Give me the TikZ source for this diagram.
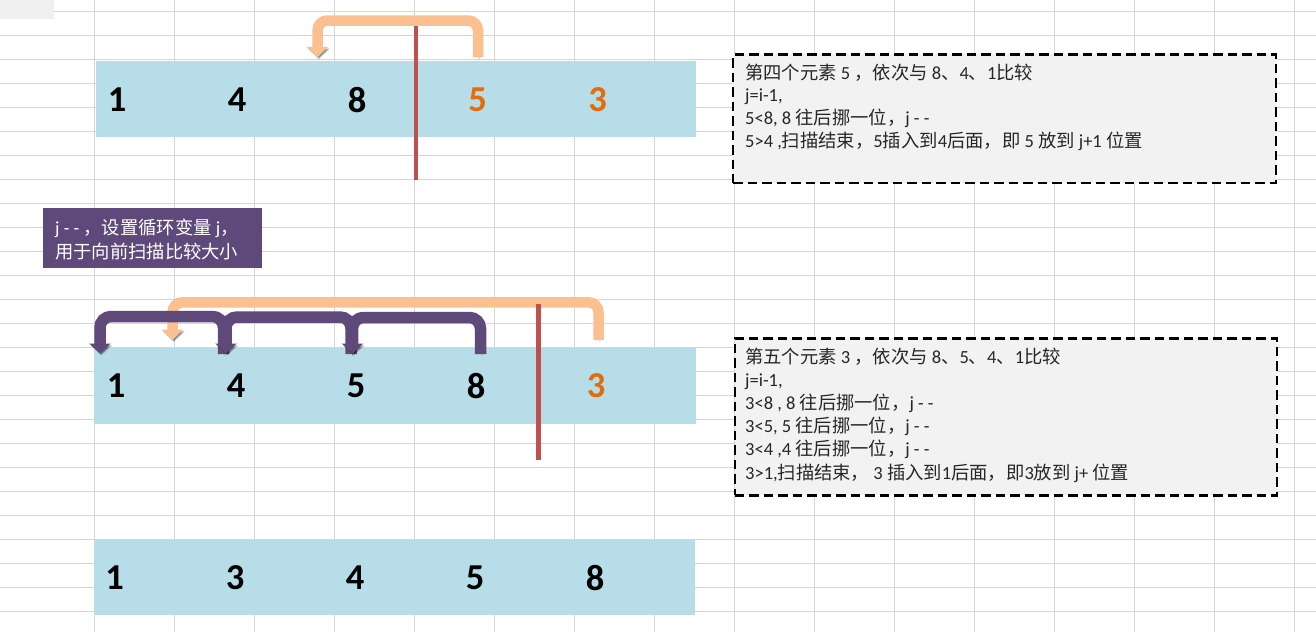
\documentclass[tikz,border=0pt]{standalone}
\usepackage{fontspec}
\setmainfont{Carlito}
\newfontfamily\cjk{Noto Sans CJK SC}
\usetikzlibrary{arrows.meta}
\definecolor{cellblue}{HTML}{B7DDE8}
\definecolor{numorange}{HTML}{E46C0A}
\definecolor{redline}{HTML}{C0504D}
\definecolor{arrorange}{HTML}{FAC090}
\definecolor{arrpurple}{HTML}{5F497A}
\definecolor{gridgray}{HTML}{D6D6D6}
\definecolor{notefill}{HTML}{F2F2F2}
\newcommand\C[1]{{\cjk\fontsize{18.3}{22}\selectfont #1}}
\begin{document}
\begin{tikzpicture}[x=1pt,y=-1pt,
  gridline/.style={draw=gridgray, line width=1pt},
  cellrow/.style={fill=cellblue, draw=none, inner sep=0pt, anchor=north west},
  num/.style={font=\fontsize{36.5}{40}\selectfont\bfseries, inner sep=0pt, anchor=center, text=black},
  hilite/.style={text=numorange},
  notebox/.style={draw=black, line width=2.3pt, dash pattern=on 9.5pt off 5pt, fill=notefill, inner sep=0pt, anchor=north west},
  noteline/.style={anchor=base west, inner sep=0pt, font=\fontsize{18.5}{22}\selectfont, text=black!85},
  labelbox/.style={fill=arrpurple, draw=none, inner sep=0pt, anchor=north west},
  labelline/.style={anchor=base west, inner sep=0pt, font=\fontsize{18.5}{22}\selectfont, text=white},
  shadowed/.style={preaction={draw=black, opacity=0.3, transform canvas={shift={(1.3pt,-1.8pt)}}}},
  orangearrow/.style={shadowed, draw=arrorange, line width=10.5pt, line cap=butt, rounded corners=10pt, -{Triangle[width=21pt,length=10.5pt]}},
  purplearrow/.style={shadowed, draw=arrpurple, line width=11.5pt, line cap=butt, rounded corners=11pt, -{Triangle[width=21pt,length=10pt]}},
  marker/.style={draw=redline, line width=4.5pt, line cap=butt}
]
\useasboundingbox (0,0) rectangle (1316,632);
\fill[white] (0,0) rectangle (1316,632);
% spreadsheet grid
\foreach \k in {0,...,25} \draw[gridline] (0,{11+24*\k}) -- (1316,{11+24*\k});
\foreach \k in {0,...,15} \draw[gridline] ({94+80*\k},0) -- ({94+80*\k},632);
\fill[gray!12] (0,0) rectangle (54,19);

% rows of cells
\node[cellrow, minimum width=600pt, minimum height=76pt] (row1) at (96,61) {};
\node[cellrow, minimum width=602pt, minimum height=76.5pt] (row2) at (94,347.3) {};
\node[cellrow, minimum width=601pt, minimum height=75.5pt] (row3) at (94,539.3) {};

% numbers
\node[num] (a1) at (117,100) {1};
\node[num] (a2) at (237,100) {4};
\node[num] (a3) at (357,100) {8};
\node[num,hilite] (a4) at (477.5,100) {5};
\node[num,hilite] (a5) at (597.5,100) {3};

\node[num] (b1) at (116,386) {1};
\node[num] (b2) at (236,386) {4};
\node[num] (b3) at (356,386) {5};
\node[num] (b4) at (476,386) {8};
\node[num,hilite] (b5) at (596,386) {3};

\node[num] (c1) at (114.5,578) {1};
\node[num] (c2) at (235,578) {3};
\node[num] (c3) at (355,578) {4};
\node[num] (c4) at (475,578) {5};
\node[num] (c5) at (595,578) {8};

% first step arrow
\coordinate (o1from) at (478,57.3);
\coordinate (o1to) at (317.5,57.3);
\draw[orangearrow] (o1from) -- (478,20.5) -- (317.5,20.5) -- (o1to);
\coordinate (m1top) at (416,26);
\coordinate (m1bot) at (416,180);
\draw[marker] (m1top) -- (m1bot);

% second step arrows
\coordinate (o2from) at (598.5,340);
\coordinate (o2to) at (172.5,340);
\draw[orangearrow] (o2from) -- (598.5,302.3) -- (172.5,302.3) -- (o2to);
\coordinate (m2top) at (538.3,304);
\coordinate (m2bot) at (538.3,460);
\draw[marker] (m2top) -- (m2bot);

\coordinate (p3from) at (223.5,354);
\coordinate (p3to) at (100,353.5);
\draw[purplearrow] (p3from) -- (223.5,316.5) -- (100,316.5) -- (p3to);
\coordinate (p2from) at (351,354);
\coordinate (p2to) at (226,353.5);
\draw[purplearrow] (p2from) -- (351,317) -- (226,317) -- (p2to);
\coordinate (p1from) at (480.5,354);
\coordinate (p1to) at (352.5,353.5);
\draw[purplearrow] (p1from) -- (480.5,317.5) -- (352.5,317.5) -- (p1to);

% label
\node[labelbox, minimum width=219pt, minimum height=60pt] (lbl) at (43,208) {};
\node[labelline] (l1) at (55,234.5) {j - - \C{，设置循环变量} j\C{，}};
\node[labelline] (l2) at (55,258.5) {\C{用于向前扫描比较大小}};

% note boxes
\node[notebox, minimum width=543pt, minimum height=128.4pt] (box1) at (732,53.3) {};
\node[noteline] (t11) at (745,79) {\C{第四个元素} 5 \C{，依次与} 8\C{、}4\C{、}1\C{比较}};
\node[noteline] (t12) at (745,101.7) {j=i-1,};
\node[noteline] (t13) at (745,124.5) {5<8, 8 \C{往后挪一位，}j - -};
\node[noteline] (t14) at (745,147.3) {5>4 ,\C{扫描结束，}5\C{插入到}4\C{后面，即} 5 \C{放到} j+1 \C{位置}};

\node[notebox, minimum width=542.3pt, minimum height=157pt] (box2) at (733.7,337.3) {};
\node[noteline] (t21) at (745,363.5) {\C{第五个元素} 3 \C{，依次与} 8\C{、}5\C{、}4\C{、}1\C{比较}};
\node[noteline] (t22) at (745,386.5) {j=i-1,};
\node[noteline] (t23) at (745,409.5) {3<8 , 8 \C{往后挪一位，}j - -};
\node[noteline] (t24) at (745,432.6) {3<5, 5 \C{往后挪一位，}j - -};
\node[noteline] (t25) at (745,455.8) {3<4 ,4 \C{往后挪一位，}j - -};
\node[noteline] (t26) at (745,479.5) {3>1,\C{扫描结束，} 3 \C{插入到}1\C{后面，即}3\C{放到} j+ \C{位置}};
\end{tikzpicture}
\end{document}
